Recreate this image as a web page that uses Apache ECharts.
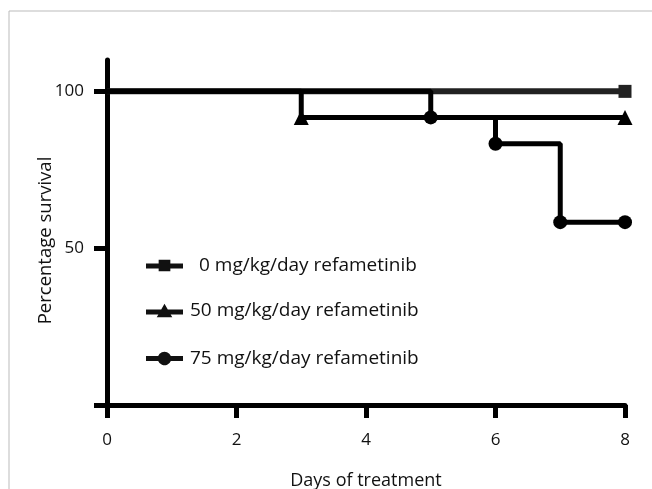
<!DOCTYPE html>
<html>
<head>
<meta charset="utf-8">
<script src="https://cdn.jsdelivr.net/npm/echarts@6/dist/echarts.min.js"></script>
<style>
  html, body { margin: 0; padding: 0; background: #fff; }
  #chart { width: 652px; height: 489px; }
</style>
</head>
<body>
<div id="chart"></div>
<script>
// survival data (days, percent surviving)
const seriesNames = ['0 mg/kg/day refametinib', '50 mg/kg/day refametinib', '75 mg/kg/day refametinib']
const days0 = [0, 8]
const surv0 = [100, 100]
const days50 = [0, 3, 8]
const surv50 = [100, 91.7, 91.7]
const days75 = [0, 5, 6, 7, 8]
const surv75 = [100, 91.7, 83.3, 58.3, 58.3]
const yTicks = [0, 50, 100]
const yLabels = [50, 100]

const font = 'Open Sans'

// legend icons: thick line with the marker in the middle (38 wide)
const iconSquare = 'path://M0,4H13V0H25V4H38V9H25V12H13V9H0Z'
const iconTriangle = 'path://M0,6H15.6L19,0L22.4,6H38V11H25.3L27,14H11L12.7,11H0Z'
const iconCircle = 'path://M0,4.5H12.5A7,7 0 0 1 25.5,4.5H38V9.5H25.5A7,7 0 0 1 12.5,9.5H0Z'

// first point (day 0) has no marker
function toPoints(days, surv) {
  return days.map((d, i) => i === 0 ? { value: [d, surv[i]], symbol: 'none' } : [d, surv[i]])
}

const chart = echarts.init(document.getElementById('chart'))

function legendAt(name, icon, h, top, pad) {
  return {
    data: [{ name: name, icon: icon }],
    left: 141,
    top: top,
    itemWidth: 37,
    itemHeight: h,
    selectedMode: false,
    itemStyle: { color: '#111', borderWidth: 0 },
    textStyle: { fontFamily: font, fontSize: 19, color: '#111', padding: [0, 0, 0, pad] }
  }
}

const option = {
  animation: false,
  grid: { left: 107, right: 27, top: 60, bottom: 84, outerBoundsMode: 'none' },
  legend: [
    legendAt(seriesNames[0], iconSquare, 12, 251, 11),
    legendAt(seriesNames[1], iconTriangle, 14, 296, 2),
    legendAt(seriesNames[2], iconCircle, 14, 344, 2)
  ],
  xAxis: {
    type: 'value',
    min: 0,
    max: 8,
    interval: 2,
    name: 'Days of treatment',
    nameLocation: 'middle',
    nameGap: 67,
    nameMoveOverlap: false,
    nameTextStyle: { fontFamily: font, fontSize: 18, color: '#111' },
    axisLine: { lineStyle: { color: '#000', width: 5 } },
    axisTick: { length: 13, lineStyle: { width: 5, color: '#000' } },
    axisLabel: { margin: 27, fontFamily: font, fontSize: 17, color: '#111' },
    splitLine: { show: false }
  },
  yAxis: {
    type: 'value',
    min: 0,
    max: 110,
    name: 'Percentage survival',
    nameLocation: 'middle',
    nameGap: 52,
    nameMoveOverlap: false,
    nameTextStyle: { fontFamily: font, fontSize: 18.5, color: '#111', padding: [0, 16, 0, 0] },
    axisLine: { show: true, lineStyle: { color: '#000', width: 5 } },
    axisTick: { show: true, length: 13, customValues: yTicks, lineStyle: { width: 5, color: '#000' } },
    axisLabel: { margin: 23, customValues: yLabels, fontFamily: font, fontSize: 17, color: '#111' },
    splitLine: { show: false }
  },
  series: [
    {
      name: seriesNames[0],
      type: 'line',
      step: 'end',
      data: toPoints(days0, surv0),
      symbol: 'rect',
      symbolSize: 13,
      lineStyle: { color: '#222', width: 6 },
      itemStyle: { color: '#222' },
      z: 3
    },
    {
      name: seriesNames[1],
      type: 'line',
      step: 'end',
      data: toPoints(days50, surv50),
      symbol: 'triangle',
      symbolSize: 15,
      lineStyle: { color: '#000', width: 5 },
      itemStyle: { color: '#000' },
      z: 4
    },
    {
      name: seriesNames[2],
      type: 'line',
      step: 'end',
      data: toPoints(days75, surv75),
      symbol: 'circle',
      symbolSize: 14,
      lineStyle: { color: '#000', width: 5 },
      itemStyle: { color: '#000' },
      z: 5
    }
  ],
  graphic: [
    { type: 'line', shape: { x1: 9, y1: 11, x2: 652, y2: 11 }, style: { stroke: '#bbb', lineWidth: 1 } },
    { type: 'line', shape: { x1: 9, y1: 11, x2: 9, y2: 489 }, style: { stroke: '#bbb', lineWidth: 1 } }
  ]
}

chart.setOption(option)
</script>
</body>
</html>
